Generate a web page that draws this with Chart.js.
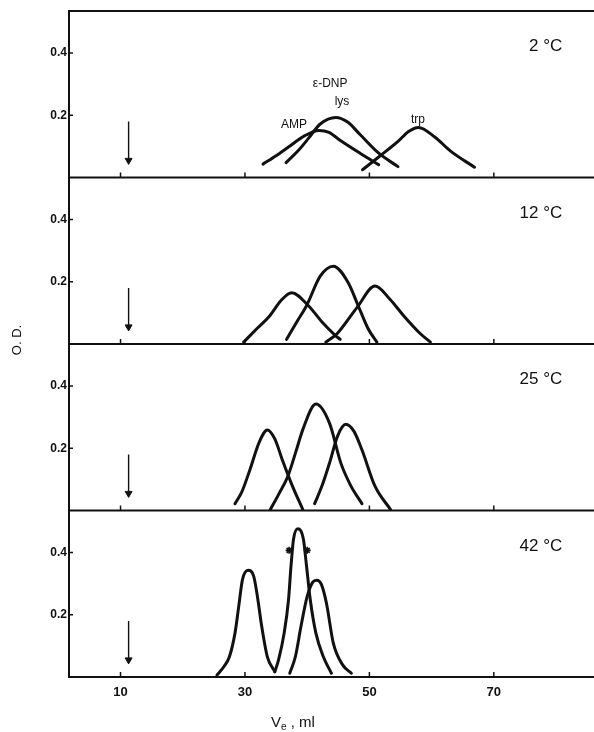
<!DOCTYPE html>
<html><head><meta charset="utf-8">
<script src="https://cdn.jsdelivr.net/npm/chart.js@4.4.1/dist/chart.umd.min.js"></script>
<style>html,body{margin:0;padding:0;background:#fff;}#wrap{width:594px;height:732px;}</style>
</head><body><div id="wrap"><canvas id="c" width="594" height="732"></canvas></div>
<script>
// ---- tick labels / categories ----
const xTickValues = [10, 30, 50, 70];
const yTickValues = [0.2, 0.4];
const temperatures = ['2 °C', '12 °C', '25 °C', '42 °C'];
const panelAxes = ['y1', 'y2', 'y3', 'y4'];

// ---- void-volume arrow (ml, O.D.) ----
const arrowX = 11.3;
const arrowTop = 0.18;
const arrowHead = 0.055;

// ---- 2 °C ----
const amp2X = [32.9, 35.0, 37.0, 39.5, 41.9, 43.5, 45.4, 48.5, 51.5];
const amp2Y = [0.043, 0.070, 0.098, 0.133, 0.151, 0.145, 0.118, 0.078, 0.041];
const lys2X = [36.6, 38.5, 40.3, 42.1, 44.6, 46.5, 48.5, 51.5, 54.6];
const lys2Y = [0.048, 0.085, 0.128, 0.172, 0.193, 0.178, 0.138, 0.078, 0.035];
const trp2X = [48.9, 51.5, 54.6, 56.3, 57.9, 60.5, 63.1, 66.9];
const trp2Y = [0.025, 0.066, 0.116, 0.148, 0.161, 0.130, 0.084, 0.033];

// ---- 12 °C ----
const amp12X = [29.8, 31.9, 34.0, 35.8, 37.5, 40.2, 42.5, 44.5, 45.3];
const amp12Y = [0.006, 0.049, 0.091, 0.140, 0.165, 0.123, 0.068, 0.028, 0.015];
const lys12X = [36.7, 38.3, 39.9, 42.1, 44.2, 46.6, 48.2, 49.8, 51.2];
const lys12Y = [0.015, 0.070, 0.123, 0.218, 0.250, 0.197, 0.123, 0.049, 0.006];
const trp12X = [43.0, 44.8, 48.0, 50.9, 53.3, 55.5, 58.2, 59.8];
const trp12Y = [0.006, 0.033, 0.117, 0.186, 0.144, 0.091, 0.033, 0.006];

// ---- 25 °C ----
const amp25X = [28.4, 29.5, 30.8, 32.3, 33.6, 34.8, 36.0, 37.6, 39.3];
const amp25Y = [0.022, 0.060, 0.131, 0.220, 0.259, 0.230, 0.163, 0.080, 0.003];
const lys25X = [34.0, 35.5, 36.9, 38.2, 39.3, 41.4, 43.6, 45.4, 47.0, 48.8];
const lys25Y = [0.000, 0.055, 0.110, 0.190, 0.260, 0.342, 0.280, 0.153, 0.080, 0.022];
const trp25X = [41.2, 42.4, 43.6, 44.9, 46.2, 47.5, 48.8, 50.9, 53.4];
const trp25Y = [0.022, 0.080, 0.153, 0.240, 0.277, 0.255, 0.195, 0.078, 0.003];

// ---- 42 °C ----
const amp42X = [25.5, 26.6, 27.5, 28.4, 29.0, 29.6, 30.5, 31.4, 32.0, 32.7, 33.6, 34.8];
const amp42Y = [0.006, 0.033, 0.065, 0.141, 0.227, 0.313, 0.343, 0.324, 0.259, 0.162, 0.065, 0.017];
const lys42X = [34.8, 35.4, 36.3, 37.0, 37.4, 37.8, 38.5, 39.4, 39.9, 40.5, 41.4, 42.6, 43.9];
const lys42Y = [0.017, 0.055, 0.141, 0.248, 0.356, 0.442, 0.476, 0.442, 0.356, 0.248, 0.141, 0.065, 0.012];
const trp42X = [37.2, 38.1, 39.0, 40.0, 40.9, 41.5, 42.3, 43.1, 44.2, 45.7, 47.1];
const trp42Y = [0.012, 0.065, 0.162, 0.259, 0.305, 0.311, 0.297, 0.237, 0.109, 0.039, 0.012];
const star42X = [37.1, 40.0];
const star42Y = [0.407, 0.407];

// ---- annotation text (2 °C panel) ----
const noteTexts = ['ε-DNP', 'lys', 'AMP', 'trp'];
const noteX = [43.7, 45.6, 37.9, 57.8];
const noteY = [0.30, 0.245, 0.171, 0.187];

const INK = '#111';
const FONT = '"Liberation Sans", Arial, Helvetica, sans-serif';
Chart.defaults.font.family = FONT;
Chart.defaults.color = INK;

function pts(xv, yv) { return xv.map((x, i) => ({ x: x, y: yv[i] })); }
function curve(xv, yv, axis) {
  return { type: 'line', data: pts(xv, yv), yAxisID: axis, xAxisID: 'x',
    borderColor: INK, borderWidth: 3, pointRadius: 0, fill: false,
    cubicInterpolationMode: 'monotone', borderCapStyle: 'round', borderJoinStyle: 'round' };
}
function arrow(axis) {
  return { type: 'line', data: pts([arrowX, arrowX], [arrowTop, arrowHead]), yAxisID: axis, xAxisID: 'x',
    borderColor: INK, borderWidth: 1.4, pointRadius: [0, 4], pointStyle: 'triangle', pointRotation: 180,
    pointBackgroundColor: INK, pointBorderColor: INK, pointBorderWidth: 1 };
}

const datasets = [
  curve(amp2X, amp2Y, 'y1'), curve(lys2X, lys2Y, 'y1'), curve(trp2X, trp2Y, 'y1'), arrow('y1'),
  curve(amp12X, amp12Y, 'y2'), curve(lys12X, lys12Y, 'y2'), curve(trp12X, trp12Y, 'y2'), arrow('y2'),
  curve(amp25X, amp25Y, 'y3'), curve(lys25X, lys25Y, 'y3'), curve(trp25X, trp25Y, 'y3'), arrow('y3'),
  curve(amp42X, amp42Y, 'y4'), curve(lys42X, lys42Y, 'y4'), curve(trp42X, trp42Y, 'y4'), arrow('y4'),
  { type: 'scatter', data: pts(star42X, star42Y), yAxisID: 'y4', xAxisID: 'x', pointStyle: 'star',
    pointRadius: 3.5, borderColor: INK, borderWidth: 1.6, backgroundColor: INK }
];

function yAxis() {
  return {
    type: 'linear', position: 'left', stack: 'panels', stackWeight: 1,
    min: 0, max: 0.535,
    grid: { display: false, drawTicks: false },
    border: { display: true, color: INK, width: 2 },
    afterBuildTicks: a => { a.ticks = yTickValues.map(v => ({ value: v })); },
    afterFit: a => { a.width = 69; },
    ticks: { padding: 2, color: INK, font: { size: 12, weight: 'bold' }, callback: v => v.toFixed(1) }
  };
}

const scales = {
  x: {
    type: 'linear', position: 'bottom', min: 1.72, max: 86.1,
    grid: { display: false, drawTicks: false },
    border: { display: true, color: INK, width: 2 },
    afterBuildTicks: a => { a.ticks = xTickValues.map(v => ({ value: v })); },
    afterFit: a => { a.height = 55; a.paddingRight = 0; a.paddingLeft = 0; },
    ticks: { padding: 8, color: INK, autoSkip: false, maxRotation: 0, font: { size: 13, weight: 'bold' } }
  }
};
// stacked axes are placed bottom-up, so add the bottom panel first
panelAxes.slice().reverse().forEach(id => { scales[id] = yAxis(); });

const decor = {
  id: 'decor',
  afterDraw(chart) {
    const ctx = chart.ctx, ca = chart.chartArea, xs = chart.scales.x;
    ctx.save();
    ctx.strokeStyle = INK; ctx.fillStyle = INK;
    panelAxes.forEach((id, i) => {
      const ys = chart.scales[id];
      ctx.lineWidth = 2;
      ctx.beginPath(); ctx.moveTo(ca.left - 1, ys.top); ctx.lineTo(ca.right, ys.top); ctx.stroke();
      ctx.lineWidth = 1.5;
      xTickValues.forEach(v => {
        const px = xs.getPixelForValue(v);
        ctx.beginPath(); ctx.moveTo(px, ys.bottom); ctx.lineTo(px, ys.bottom - 5); ctx.stroke();
      });
      yTickValues.forEach(v => {
        const py = ys.getPixelForValue(v);
        ctx.beginPath(); ctx.moveTo(ca.left, py); ctx.lineTo(ca.left + 4, py); ctx.stroke();
      });
      ctx.font = '17px ' + FONT; ctx.textAlign = 'right'; ctx.textBaseline = 'middle';
      ctx.fillText(temperatures[i], xs.getPixelForValue(81), ys.getPixelForValue(0.42));
    });
    const y1 = chart.scales.y1;
    ctx.font = '12px ' + FONT; ctx.textAlign = 'center'; ctx.textBaseline = 'middle';
    noteTexts.forEach((t, i) => ctx.fillText(t, xs.getPixelForValue(noteX[i]), y1.getPixelForValue(noteY[i])));
    ctx.textAlign = 'left'; ctx.textBaseline = 'alphabetic';
    let tx = 271; const tb = 727;
    ctx.font = '15px ' + FONT; ctx.fillText('V', tx, tb); tx += ctx.measureText('V').width;
    ctx.font = '10px ' + FONT; ctx.fillText('e', tx, tb + 3); tx += ctx.measureText('e').width;
    ctx.font = '15px ' + FONT; ctx.fillText(' , ml', tx, tb);
    ctx.translate(17, 340); ctx.rotate(-Math.PI / 2);
    ctx.font = '13px ' + FONT; ctx.textAlign = 'center'; ctx.textBaseline = 'middle';
    ctx.fillText('O. D.', 0, 0);
    ctx.restore();
  }
};

new Chart(document.getElementById('c'), {
  type: 'line',
  data: { datasets: datasets },
  options: {
    responsive: false, animation: false, devicePixelRatio: 1,
    layout: { autoPadding: false, padding: { top: 11, right: 0, bottom: 0, left: 0 } },
    plugins: { legend: { display: false }, tooltip: { enabled: false } },
    scales: scales
  },
  plugins: [decor]
});
</script></body></html>
